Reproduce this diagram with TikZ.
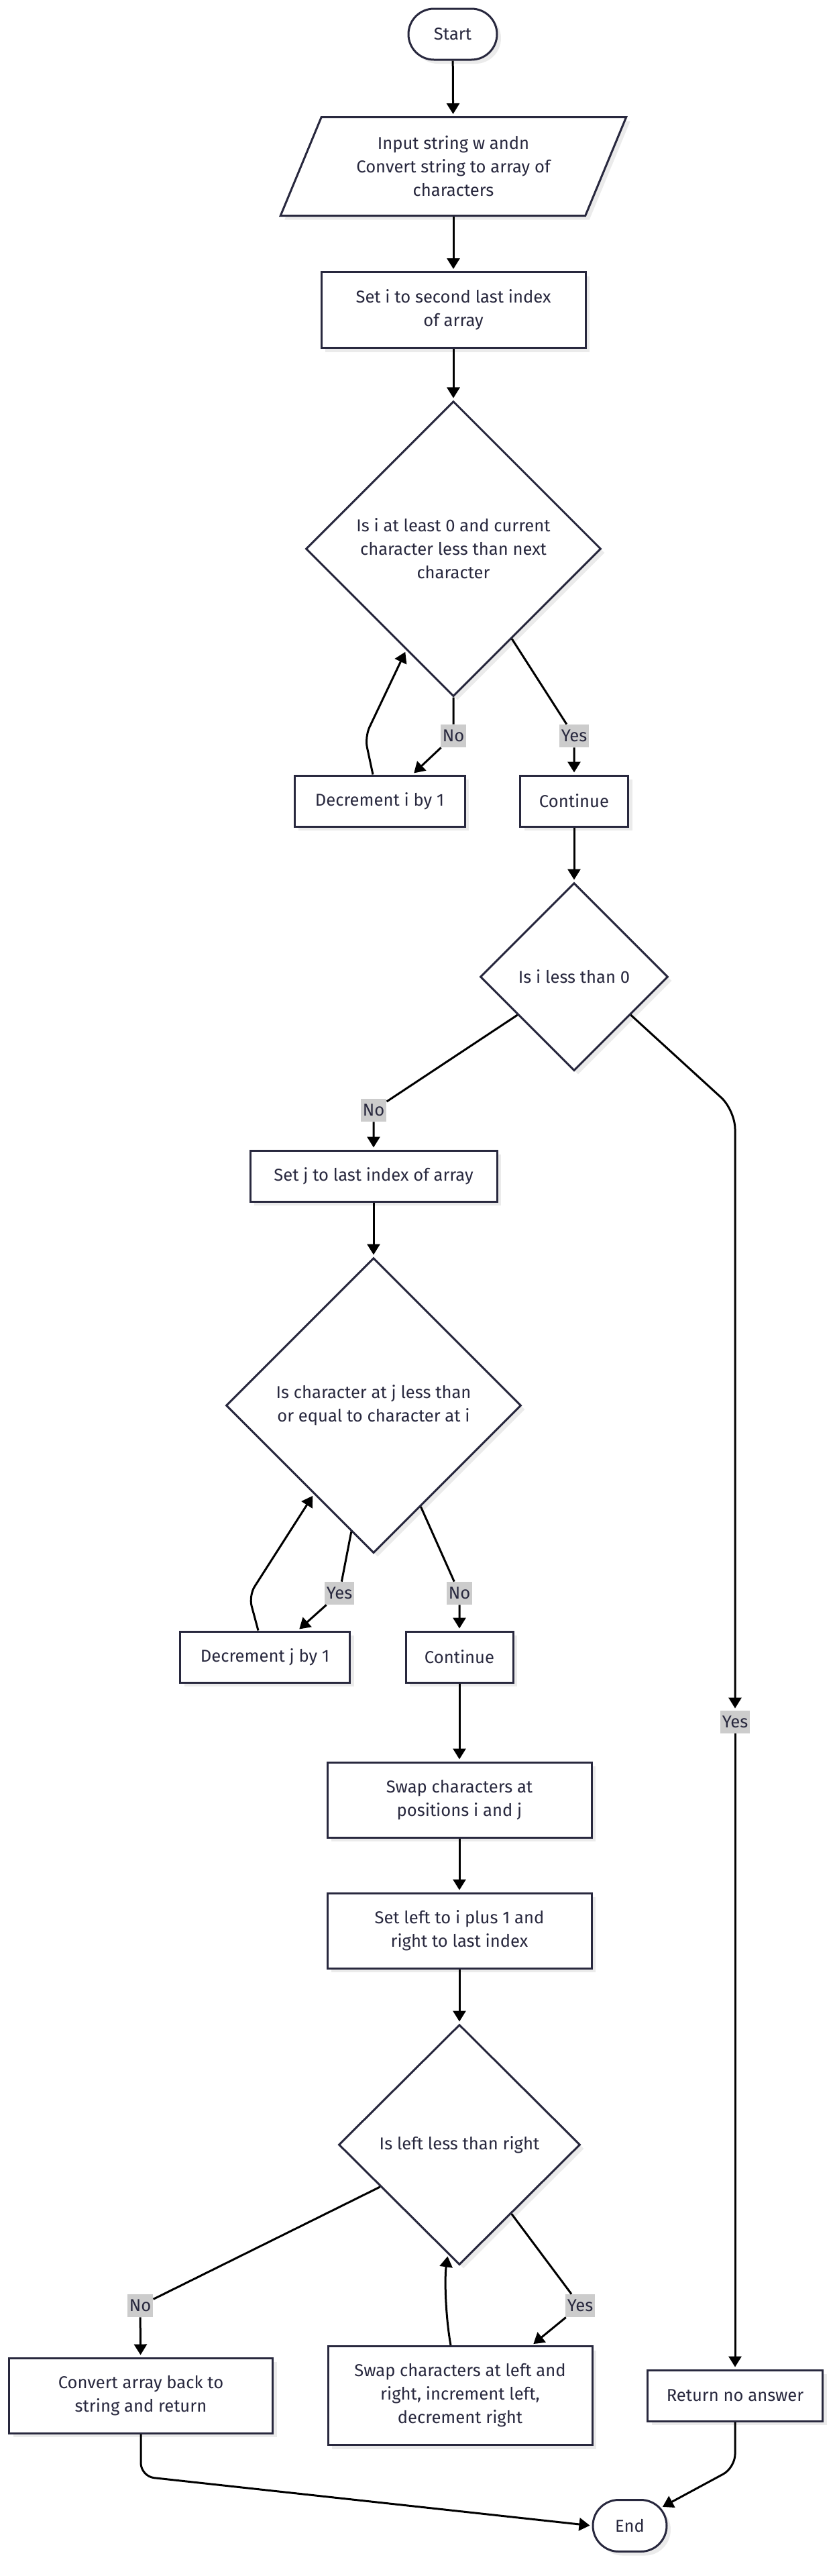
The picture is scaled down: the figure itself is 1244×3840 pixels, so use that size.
\documentclass[tikz,border=0pt]{standalone}
\usepackage{fontspec}
\setmainfont{Fira Sans}
\usetikzlibrary{shapes.geometric,shapes.misc,arrows.meta,calc,shadows}

\definecolor{nodeline}{RGB}{40,40,62}
\definecolor{lblgray}{RGB}{204,204,204}

\tikzset{
  base/.style={draw=nodeline, line width=1.5pt, fill=white, text=nodeline,
    font=\fontsize{12.8}{17.5}\selectfont, align=center, inner sep=0pt,
    drop shadow={shadow xshift=3pt, shadow yshift=-3pt, fill=black, opacity=0.08}},
  term/.style={base, rounded rectangle, minimum height=38pt},
  box/.style={base, rectangle, minimum height=38pt},
  io/.style={base, trapezium, trapezium left angle=63.6, trapezium right angle=116.4,
    trapezium stretches=true},
  decision/.style={base, diamond},
  lbl/.style={fill=lblgray, text=nodeline, font=\fontsize{12.8}{14}\selectfont,
    inner sep=1.5pt, minimum height=17pt},
  flow/.style={-{Triangle[length=8pt,width=9.5pt]}, line width=1.5pt, shorten >=1.5pt}
}

\begin{document}
\begin{tikzpicture}[x=0.5pt, y=-0.5pt]
    \fill[white] (0,0) rectangle (1244,3840);
    \useasboundingbox (0,0) rectangle (1244,3840);

    % Main column
    \node[term, minimum width=66pt] (start) at (675,51) {Start};
    \node[io, minimum width=258.5pt, minimum height=73.5pt] (inp) at (676,248)
        {Input string w andn\\Convert string to array of\\characters};
    \node[box, minimum width=197pt, minimum height=56.5pt] (seti) at (676,462)
        {Set i to second last index\\of array};
    \node[decision, minimum width=220pt, minimum height=220pt] (d1) at (676,818)
        {Is i at least 0 and current\\character less than next\\character};
    \node[box, minimum width=127pt] (dec1) at (566,1194) {Decrement i by 1};
    \node[box, minimum width=80.5pt] (cont1) at (856,1194) {Continue};
    \node[decision, minimum width=140pt, minimum height=140pt] (d2) at (856,1456)
        {Is i less than 0};
    \node[box, minimum width=184pt] (setj) at (557,1753) {Set j to last index of array};
    \node[decision, minimum width=220pt, minimum height=220pt] (d3) at (557,2095)
        {Is character at j less than\\or equal to character at i};
    \node[box, minimum width=126.5pt] (decj) at (395,2470) {Decrement j by 1};
    \node[box, minimum width=80pt] (cont2) at (685,2470) {Continue};
    \node[box, minimum width=197pt, minimum height=56pt] (swapij) at (685,2683)
        {Swap characters at\\positions i and j};
    \node[box, minimum width=197pt, minimum height=56pt] (setlr) at (685,2878)
        {Set left to i plus 1 and\\right to last index};
    \node[decision, minimum width=180pt, minimum height=179pt] (d4) at (685,3197)
        {Is left less than right};
    \node[box, minimum width=196.5pt, minimum height=56pt] (conv) at (210,3571)
        {Convert array back to\\string and return};
    \node[box, minimum width=197pt, minimum height=73.5pt] (swaplr) at (686,3571)
        {Swap characters at left and\\right, increment left,\\decrement right};
    \node[box, minimum width=130.5pt] (ret) at (1096,3571) {Return no answer};
    \node[term, minimum width=55pt, minimum height=38.5pt] (end) at (939,3765) {End};

    % Edge labels
    \node[lbl] (no1) at (676,1097) {No};
    \node[lbl] (yes1) at (856,1097) {Yes};
    \node[lbl] (no2) at (557,1655) {No};
    \node[lbl] (yes2) at (1096,2567) {Yes};
    \node[lbl] (yes3) at (506,2375) {Yes};
    \node[lbl] (no3) at (685,2375) {No};
    \node[lbl] (no4) at (209,3437) {No};
    \node[lbl] (yes4) at (865,3437) {Yes};
    \coordinate (c2) at (1096,1655);

    % Straight flow
    \draw[flow] (start) -- (inp);
    \draw[flow] (inp) -- (seti);
    \draw[flow] (seti) -- (d1);
    \draw[flow] (cont1) -- (d2);
    \draw[flow] (setj) -- (d3);
    \draw[flow] (cont2) -- (swapij);
    \draw[flow] (swapij) -- (setlr);
    \draw[flow] (setlr) -- (d4);

    % First loop
    \draw[flow] (d1.south) -- (no1) -- ($(dec1.north)+(49,0)$);
    \draw[flow, rounded corners=8pt] ($(dec1.north)+(-10,0)$) -- ++(-12,-56) -- (d1.245);
    \draw[flow] (d1.-57) -- (yes1) -- (cont1);

    % Is i less than 0
    \draw[flow] (d2.214) -- (no2) -- (setj);
    \draw[flow, rounded corners=14pt] (d2.-34) -- (c2) -- (yes2);
    \draw[flow] (yes2) -- (ret);

    % Second loop
    \draw[flow] (d3.260) -- (yes3) -- ($(decj.north)+(49,0)$);
    \draw[flow, rounded corners=8pt] ($(decj.north)+(-10,0)$) -- ++(-14,-52) -- (d3.236);
    \draw[flow] (d3.-65) -- (no3) -- (cont2);

    % Reverse loop
    \draw[flow] (d4.208) -- (no4) -- (conv);
    \draw[flow] (d4.-53) -- (yes4) -- ($(swaplr.north)+(107,0)$);
    \draw[flow] ($(swaplr.north)+(-14,0)$) .. controls +(-8,-45) and +(-5,35) .. (d4.264);

    % To end
    \draw[flow, rounded corners=10pt] (conv.south) -- ++(0,63) -- (end.west);
    \draw[flow, rounded corners=10pt] (ret.south) -- ++(0,68) -- (end.30);
\end{tikzpicture}
\end{document}
